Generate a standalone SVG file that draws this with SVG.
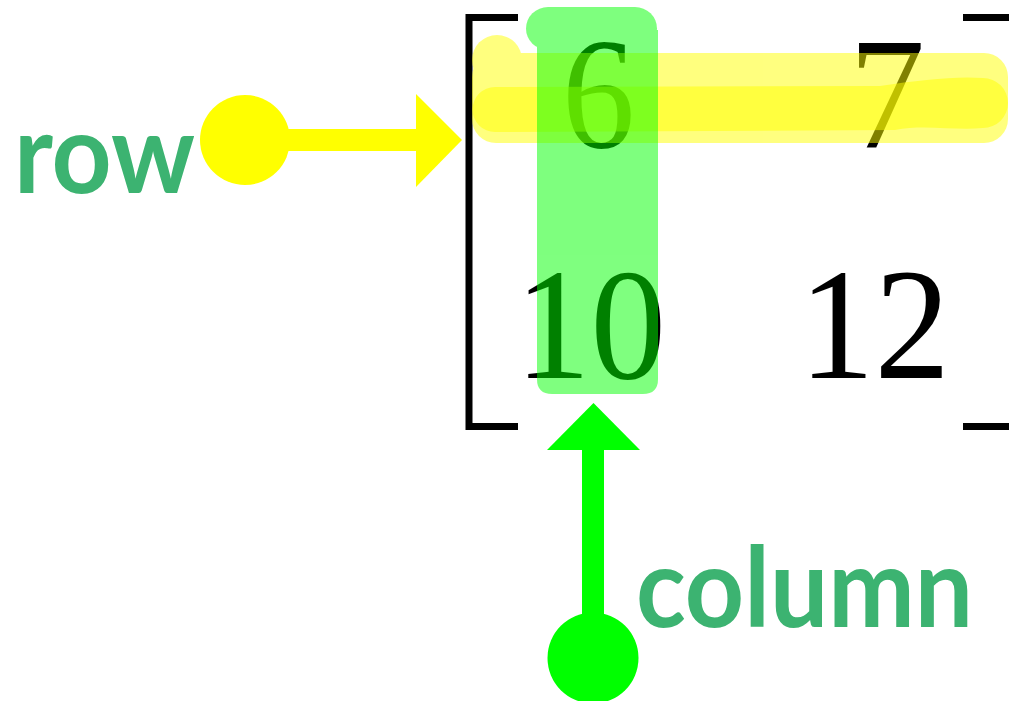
<svg xmlns="http://www.w3.org/2000/svg" width="1009" height="701" viewBox="0 0 1009 701">
  <style>
    .num { font-family: "Liberation Serif", "Times New Roman", serif; font-size: 158px; fill: #000; }
    .lbl { font-family: "Lato", "DejaVu Sans", sans-serif; font-weight: bold; font-size: 112px; fill: #3cb371; }
    .br { fill: none; stroke: #000; stroke-width: 7; stroke-linecap: butt; stroke-linejoin: miter; }
  </style>
  <rect width="1009" height="701" fill="#fff"/>

  <g id="matrix">
    <path class="br" d="M518 17.5 H469 V426.5 H518"/>
    <path class="br" d="M963 17.5 H1012 M963 426.5 H1012"/>
    <text class="num" x="562" y="147" textLength="73" lengthAdjust="spacingAndGlyphs">6</text>
    <text class="num" x="849" y="147" textLength="76" lengthAdjust="spacingAndGlyphs">7</text>
    <text class="num" x="515" y="378" textLength="151" lengthAdjust="spacingAndGlyphs">10</text>
    <text class="num" x="799" y="378" textLength="151" lengthAdjust="spacingAndGlyphs">12</text>
  </g>

  <g id="row-highlight">
    <g opacity="0.5" fill="#ffff00">
      <rect x="472" y="53" width="536" height="90" rx="24"/>
      <circle cx="497" cy="60" r="25"/>
    </g>
    <g opacity="0.5" fill="#ffff00">
      <path d="M495 87 L880 86 C920 80 955 76 983 78 A25 25 0 0 1 983 128 C955 131 925 124 895 130 L495 132 A22.5 22.5 0 0 1 495 87 Z"/>
    </g>
  </g>

  <g id="column-highlight" opacity="0.5" fill="#00ff00">
    <rect x="526" y="7" width="131" height="43" rx="22"/>
    <path d="M537 30 H658 V379 Q658 394 643 394 H552 Q537 394 537 379 Z"/>
  </g>

  <g id="connectors">
    <g id="row-arrow" fill="#ffff00">
      <circle cx="245" cy="140" r="45"/>
      <rect x="280" y="129" width="138" height="22"/>
      <polygon points="416,94 462,140 416,187"/>
    </g>
    <g id="column-arrow" fill="#00ff00">
      <circle cx="593" cy="658" r="45.5"/>
      <rect x="582" y="448" width="22" height="175"/>
      <polygon points="547,450 593.5,403 640,450"/>
    </g>
  </g>

  <g id="row-label">
    <text class="lbl" x="14" y="193" textLength="181" lengthAdjust="spacingAndGlyphs">row</text>
  </g>
  <g id="column-label">
    <text class="lbl" x="636" y="627" textLength="337" lengthAdjust="spacingAndGlyphs">column</text>
  </g>
</svg>
